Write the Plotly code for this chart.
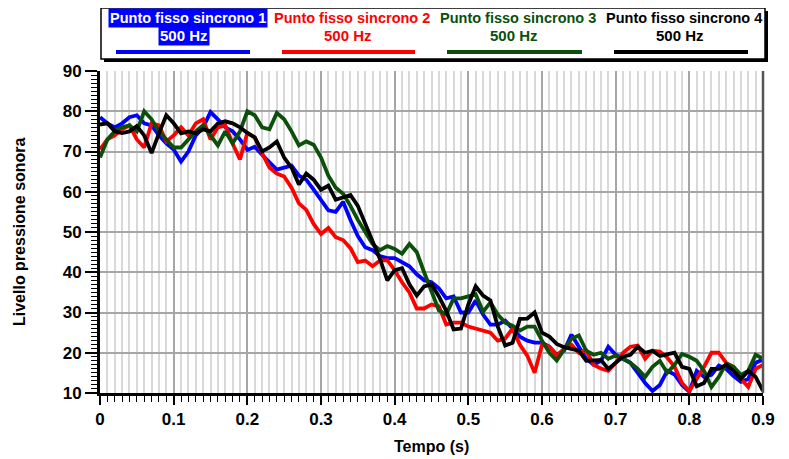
import plotly.graph_objects as go

# ---------------- data ----------------
t = [round(i * 0.01, 2) for i in range(91)]  # Tempo (s), sampling grid 0 .. 0.90

punto_1 = [78.5, 77, 76, 77, 78.5, 79, 77, 76.5, 74, 72,
           70.5, 67.5, 70, 74, 76, 79.8, 78, 76, 75, 73,
           70.4, 71.2, 69.2, 67.5, 65.5, 66, 66.5, 64, 63, 60.5,
           58, 55.4, 55, 57.5, 53, 49, 46.2, 45.5, 44, 43.5,
           43.5, 42.5, 41.5, 39.5, 38, 37.5, 36, 33.5, 34, 30,
           30, 33, 29.5, 27, 27, 28, 26, 24, 23, 22.5,
           22.5, 21.5, 19.5, 20.5, 24.5, 21.5, 18.5, 17, 18, 21.5,
           19.5, 18.5, 17.5, 15, 12.5, 10.5, 12, 15.5, 14.6, 12,
           10.3, 15.5, 14, 14.5, 16.8, 16, 14.2, 12.8, 13.5, 17.5,
           18.3]

punto_2 = [70.5, 73, 74, 75.5, 76.5, 73, 71, 77, 76.5, 72.5,
           74, 76, 74, 77, 78, 73, 76, 76.5, 72, 68,
           74.6, 73.5, 69.6, 66, 64.5, 63.8, 61, 57.1, 55.5, 52,
           49.5, 51, 48.7, 48, 46, 42.5, 42.9, 41.5, 42.9, 43,
           40.5, 37.5, 35, 31, 31, 32, 31.5, 27, 27.5, 27.5,
           26.5, 26, 25.5, 25, 23, 23.5, 26, 22, 19.3, 15,
           22, 21.5, 19.3, 21, 22, 20, 20.6, 17, 16.1, 15.5,
           17.5, 20, 21.5, 21.8, 18.5, 20.5, 20.3, 18.8, 16.5, 12.5,
           10.5, 13.4, 16.5, 20, 20, 17.5, 16.5, 13.5, 11.5, 16,
           17]

punto_3 = [68.5, 73, 75, 76, 76.5, 75, 80, 78, 75, 73,
           71, 71, 73, 75, 76.5, 74, 71.5, 75, 72, 75,
           80, 79, 76, 75.5, 79.6, 78, 75, 71.5, 72.5, 71.7,
           68.5, 64, 61, 59.5, 56.5, 53, 50, 47, 45.5, 46.5,
           45.8, 44.6, 47, 45, 40, 35, 30.5, 29.5, 33.5, 33.5,
           34, 34.5, 30.2, 32.5, 29.5, 27.5, 26.7, 25.5, 26.5, 26.5,
           23, 20, 18.1, 21, 23.5, 24.3, 20.5, 19.5, 20, 18.5,
           19.3, 18.5, 17.5, 16, 14, 16.5, 18, 15, 17, 19.7,
           19, 18, 15.5, 11.5, 14, 17.3, 16.5, 14.5, 15.5, 19.5,
           18.5]

punto_4 = [76.7, 77, 75, 74.6, 75, 76.3, 74, 69.6, 74.5, 79,
           77, 74.5, 75, 74.5, 75.5, 75, 77, 77.5, 77, 76,
           74.6, 73.5, 70, 71, 72.5, 68.5, 66, 61.8, 64.5, 63,
           60.5, 61.5, 58, 58.7, 59.2, 56.5, 52, 47.5, 43.3, 38,
           40.5, 41, 37, 34.2, 36.5, 37, 34, 30.4, 25.8, 26,
           32, 36.5, 34.2, 33, 26.5, 21.8, 22.5, 28.4, 28.5, 30,
           25, 24, 22.2, 21.4, 21, 20.5, 18, 18.1, 18.2, 16,
           17.5, 19, 19.5, 21.5, 20, 20.5, 19.2, 19.5, 20, 16.5,
           16, 11.7, 12.5, 16, 16, 17, 15.5, 13.5, 15.5, 14,
           10.5]

series_names = ["Punto fisso sincrono 1", "Punto fisso sincrono 2",
                "Punto fisso sincrono 3", "Punto fisso sincrono 4"]
series_sub = ["500 Hz", "500 Hz", "500 Hz", "500 Hz"]
series_values = [punto_1, punto_2, punto_3, punto_4]
series_colors = ["#0000ff", "#ff0000", "#0b4f0b", "#000000"]

x_title = "Tempo (s)"
y_title = "Livello pressione sonora"

# ---------------- figure ----------------
# the page body keeps the browser's 8px margin, so the figure is 8px smaller
OFF = 8
W, H = 789 - OFF, 459 - OFF
ML, MR, MT, MB = 100 - OFF, 26, 71 - OFF, 66
PW, PH = W - ML - MR, H - MT - MB


def px_x(x):  # reference window pixel -> paper
    return (x - OFF - ML) / PW


def px_y(y):
    return (H - MB - (y - OFF)) / PH


FONT = "Liberation Sans, Arial, sans-serif"

fig = go.Figure()
for name, vals, col in zip(series_names, series_values, series_colors):
    fig.add_trace(go.Scatter(x=t, y=vals, mode="lines", name=name,
                             line=dict(color=col, width=3.8),
                             showlegend=False, hoverinfo="skip"))

shapes = []
# legend frame with drop shadow
shapes.append(dict(type="rect", xref="paper", yref="paper",
                   x0=px_x(104), x1=px_x(768), y0=px_y(62), y1=px_y(11),
                   fillcolor="black", line=dict(width=0), layer="above"))
shapes.append(dict(type="rect", xref="paper", yref="paper",
                   x0=px_x(101), x1=px_x(765), y0=px_y(59), y1=px_y(8),
                   fillcolor="white", line=dict(color="black", width=1.5), layer="above"))
# right border
shapes.append(dict(type="line", xref="paper", yref="paper",
                   x0=1, x1=1, y0=0, y1=1, line=dict(color="#555555", width=2.5)))

annotations = []
centers = [188, 352, 518, 684]
sample_x = [(116, 250), (282, 415), (447, 582), (614, 748)]
for i, (name, sub, col) in enumerate(zip(series_names, series_sub, series_colors)):
    hl = i == 0
    txtcol = "white" if hl else col
    bg = "#0000ff" if hl else "rgba(0,0,0,0)"
    annotations.append(dict(xref="paper", yref="paper", x=px_x(centers[i]), y=px_y(18),
                            text="<b>%s</b>" % name, showarrow=False,
                            xanchor="center", yanchor="middle", bgcolor=bg, borderpad=1,
                            font=dict(family=FONT, size=14.5, color=txtcol)))
    annotations.append(dict(xref="paper", yref="paper", x=px_x(centers[i] - 4), y=px_y(35),
                            text="<b>%s</b>" % sub, showarrow=False,
                            xanchor="center", yanchor="middle", bgcolor=bg, borderpad=1,
                            font=dict(family=FONT, size=15, color=txtcol)))
    shapes.append(dict(type="line", xref="paper", yref="paper",
                       x0=px_x(sample_x[i][0]), x1=px_x(sample_x[i][1]),
                       y0=px_y(52), y1=px_y(52), line=dict(color=col, width=4)))

annotations.append(dict(xref="paper", yref="paper", x=0.5, y=px_y(446),
                        text="<b>%s</b>" % x_title, showarrow=False,
                        xanchor="center", yanchor="middle",
                        font=dict(family=FONT, size=16, color="black")))
annotations.append(dict(xref="paper", yref="paper", x=px_x(19), y=0.5,
                        text="<b>%s</b>" % y_title, showarrow=False, textangle=-90,
                        xanchor="center", yanchor="middle",
                        font=dict(family=FONT, size=16, color="black")))

fig.update_layout(
    width=W, height=H,
    margin=dict(l=ML, r=MR, t=MT, b=MB, autoexpand=False),
    paper_bgcolor="white", plot_bgcolor="white",
    font=dict(family=FONT, color="black"),
    shapes=shapes, annotations=annotations,
    xaxis=dict(range=[0, 0.9], dtick=0.1, tick0=0, showgrid=True,
               gridcolor="#a6a6a6", gridwidth=1.5, zeroline=False,
               showline=True, linecolor="black", linewidth=3,
               ticks="outside", ticklen=9, tickwidth=1.5, tickcolor="black",
               tickfont=dict(family=FONT, size=17, color="black", weight="bold"),
               minor=dict(dtick=0.01, tick0=0, ticks="outside", ticklen=6,
                          tickwidth=1, tickcolor="black", showgrid=True,
                          gridcolor="#d9d9d9", gridwidth=2),
               fixedrange=True),
    yaxis=dict(range=[10, 90], dtick=10, tick0=10, showgrid=True,
               gridcolor="#a6a6a6", gridwidth=1.5, zeroline=False,
               showline=True, linecolor="black", linewidth=3,
               ticks="outside", ticklen=12, tickwidth=1.5, tickcolor="black",
               tickfont=dict(family=FONT, size=17, color="black", weight="bold"),
               minor=dict(dtick=1, tick0=10, ticks="outside", ticklen=6,
                          tickwidth=1, tickcolor="black", showgrid=False),
               fixedrange=True),
)

fig.write_html("out.html")
